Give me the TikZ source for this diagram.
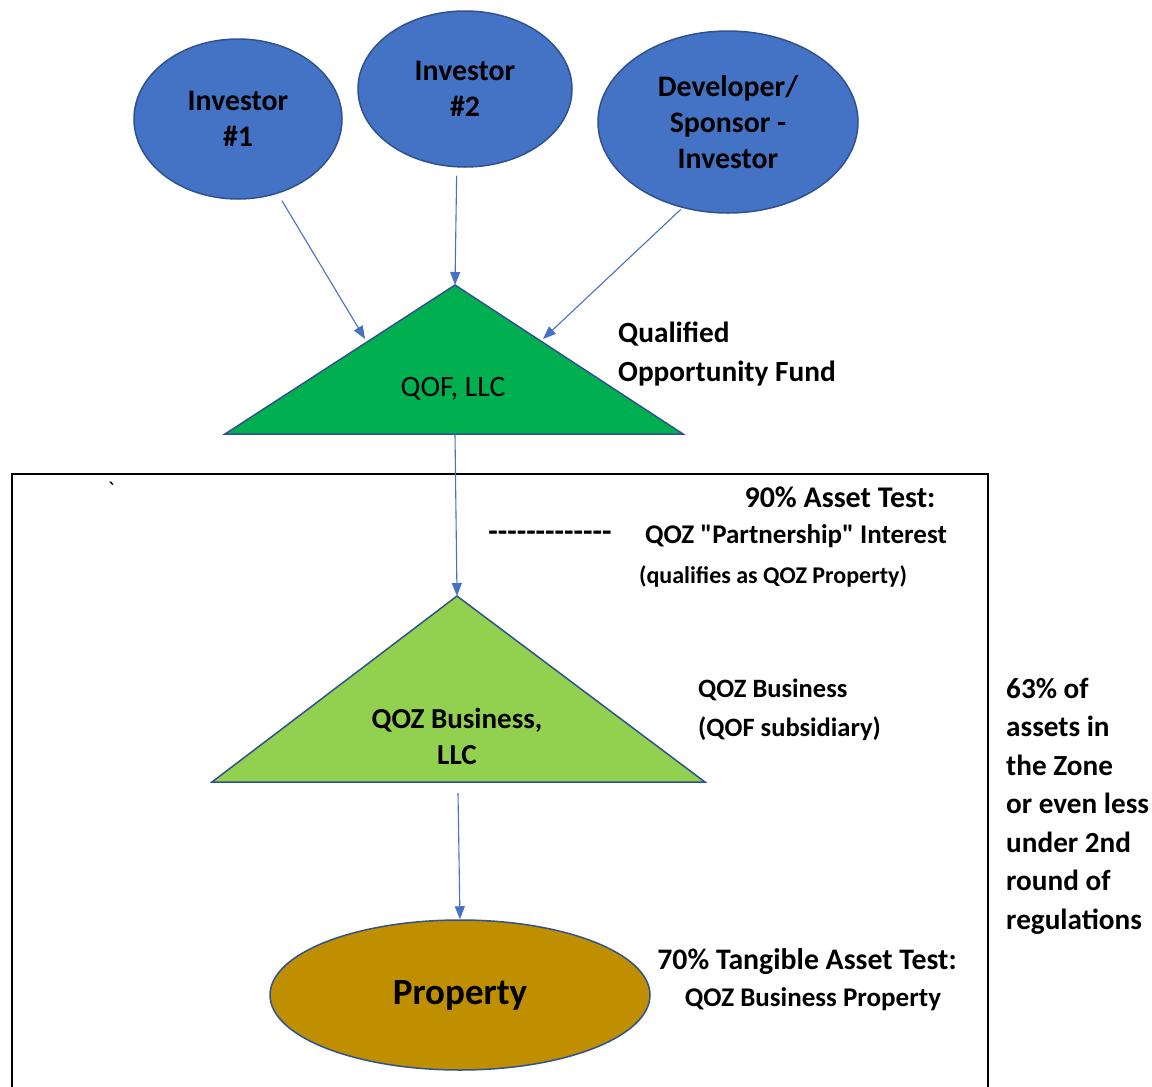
\documentclass[tikz,border=0pt]{standalone}
\usepackage{fontspec}
\setmainfont{Carlito}[Ligatures=TeXOff]
\usepackage{xcolor}
\usetikzlibrary{arrows.meta,positioning,shapes.geometric}
\definecolor{invblue}{HTML}{4472C4}
\definecolor{edgeblue}{HTML}{2F528F}
\definecolor{qofgreen}{HTML}{00B050}
\definecolor{bizgreen}{HTML}{92D050}
\definecolor{propgold}{HTML}{BF8F00}
\tikzset{
    investor/.style={ellipse,draw=edgeblue,fill=invblue,line width=1.5pt,
      inner sep=0pt,align=center,font=\fontsize{29.8}{36}\selectfont\bfseries},
    fundtri/.style={draw=edgeblue,line width=1.5pt,line join=miter},
    propnode/.style={ellipse,draw=edgeblue,fill=propgold,line width=1.5pt,
      minimum width=380pt,minimum height=150pt,inner sep=0pt,
      font=\fontsize{37}{44}\selectfont\bfseries},
    flowarrow/.style={-{Triangle[length=13pt,width=10pt]},draw=invblue,
      line width=1.1pt},
    bigtext/.style={font=\fontsize{29.3}{39}\selectfont\bfseries,inner sep=0pt,align=left},
    smalltext/.style={font=\fontsize{27}{36}\selectfont\bfseries,inner sep=0pt},
    tinytext/.style={font=\fontsize{24}{30}\selectfont\bfseries,inner sep=0pt}
}
\begin{document}
\begin{tikzpicture}[x=1pt,y=-1pt]
    \useasboundingbox (0,0) rectangle (1152,1087);
    \draw[line width=2.5pt] (12,1095) -- (12,474) -- (988,474) -- (988,1095);
    \node[investor,minimum width=208pt,minimum height=160pt] (inv1) at (238,119) {Investor\\\#1};
    \node[investor,minimum width=214pt,minimum height=156pt] (inv2) at (465,89) {Investor\\\#2};
    \node[investor,minimum width=260pt,minimum height=182pt] (dev) at (728,122) {Developer/\\Sponsor -\\Investor};
    \draw[fundtri,fill=qofgreen] (225,434) -- (455,285) -- (683,434) -- cycle;
    \coordinate (qoftop) at (455,285);
    \coordinate (qofbase) at (455,434);
    \coordinate (qofleft) at (365,339);
    \coordinate (qofright) at (543,339);
    \node[font=\fontsize{29.6}{36}\selectfont] (qof) at (453,389) {QOF, LLC};
    \draw[fundtri,fill=bizgreen] (212,782) -- (457,596) -- (705,782) -- cycle;
    \coordinate (biztop) at (457,596);
    \coordinate (bizbase) at (458,793);
    \node[font=\fontsize{29}{36}\selectfont\bfseries,align=center] (biz) at (457,736) {QOZ Business,\\LLC};
    \node[propnode] (prop) at (460,995) {Property};
    \draw[flowarrow,shorten <=8pt] (inv1.-62) -- (qofleft);
    \draw[flowarrow,shorten <=8pt] (inv2.-96) -- (qoftop);
    \draw[flowarrow,shorten <=2pt] (dev.-118) -- (qofright);
    \draw[flowarrow] (qofbase) -- (biztop);
    \draw[flowarrow] (bizbase) -- (prop.north);
    \node[bigtext,anchor=west] (qoflabel) at (618,353.5) {Qualified\\Opportunity Fund};
    \node[inner sep=0pt,font=\fontsize{24}{30}\selectfont] (tick) at (111,490) {`};
    \node[smalltext,font=\fontsize{30}{36}\selectfont\bfseries] (test90) at (840,497.5) {90\% Asset Test:};
    \node[smalltext] (partint) at (796,536.5) {QOZ "Partnership" Interest};
    \node[smalltext,font=\fontsize{31}{36}\selectfont\bfseries] (dashes) at (550,536) {-------------};
    \node[tinytext] (qualprop) at (773,576) {(qualifies as QOZ Property)};
    \node[smalltext,align=left,anchor=west,font=\fontsize{26.5}{39}\selectfont\bfseries] (bizlabel) at (698,710) {QOZ Business\\(QOF subsidiary)};
    \node[bigtext,anchor=west,font=\fontsize{29.2}{38.5}\selectfont\bfseries] (zone) at (1006,806) {63\% of\\assets in\\the Zone\\or even less\\under 2nd\\round of\\regulations};
    \node[smalltext,font=\fontsize{29.8}{36}\selectfont\bfseries] (test70) at (807,961.5) {70\% Tangible Asset Test:};
    \node[tinytext,font=\fontsize{27}{30}\selectfont\bfseries] (bizprop) at (813,999.5) {QOZ Business Property};
\end{tikzpicture}
\end{document}
